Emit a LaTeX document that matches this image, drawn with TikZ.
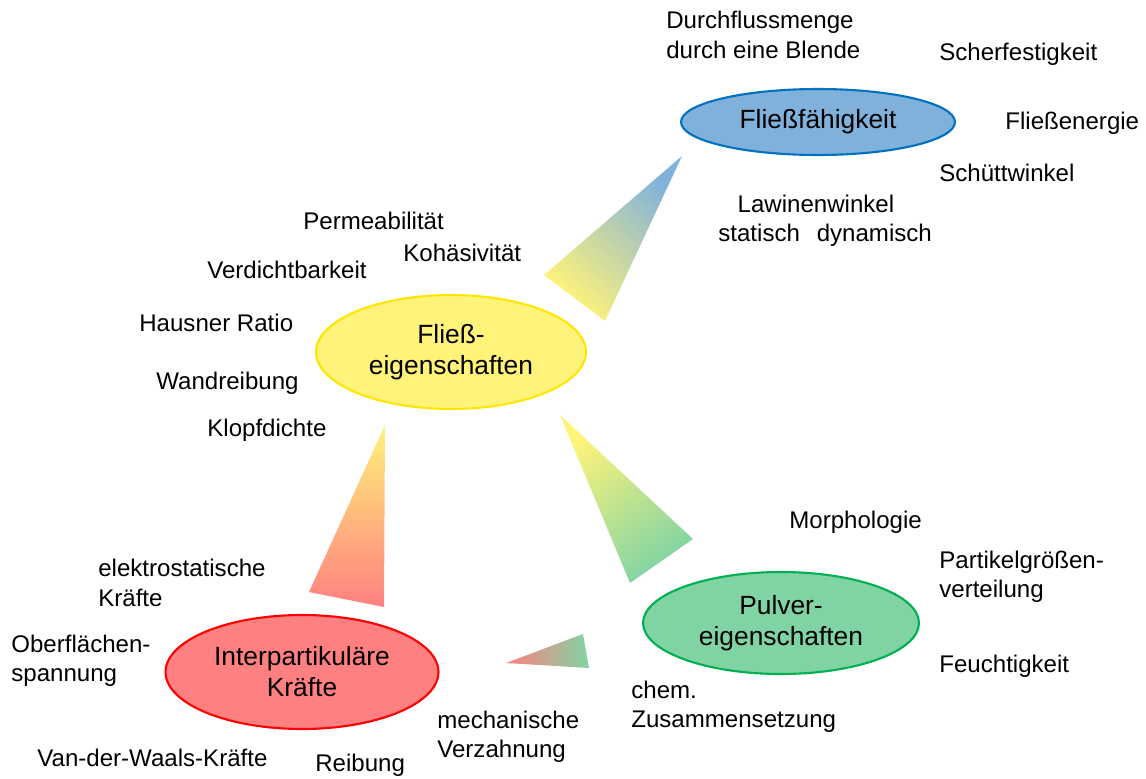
\documentclass[tikz,border=0pt]{standalone}
\usepackage{fontspec}
\setmainfont{Liberation Sans}
\usetikzlibrary{shapes.geometric}

\definecolor{blaufill}{RGB}{127,177,219}
\definecolor{blaurand}{RGB}{0,112,192}
\definecolor{gelbfill}{RGB}{255,243,122}
\definecolor{gelbrand}{RGB}{255,230,0}
\definecolor{rotfill}{RGB}{255,128,128}
\definecolor{rotrand}{RGB}{255,0,0}
\definecolor{gruenfill}{RGB}{128,212,164}
\definecolor{gruenrand}{RGB}{0,176,80}

\begin{document}
\begin{tikzpicture}[x=0.02cm,y=-0.02cm]
		\tikzset{
			haupt/.style={ellipse,draw,line width=1.2pt,inner sep=0pt,align=center,font=\fontsize{15}{17.6}\selectfont},
			merkmal/.style={anchor=west,inner sep=0pt,align=left,font=\fontsize{13.7}{16.8}\selectfont}
		}
		\useasboundingbox (0,0) rectangle (1146,778);
		% Verbindungen
		\shade[top color=blaufill,bottom color=gelbfill,shading angle=-44] (544,275) -- (605,321) -- (682,156) -- cycle;
		\shade[top color=gelbfill,bottom color=rotfill] (385,425) -- (309,592) -- (384,607) -- cycle;
		\shade[top color=gelbfill,bottom color=gruenfill,shading angle=35] (560,415) -- (693,539) -- (630,583) -- cycle;
		\shade[left color=rotfill,right color=gruenfill] (506,663) -- (583,634) -- (589,668) -- cycle;
		% Hauptknoten
		\node[haupt,fill=blaufill,draw=blaurand,minimum width=5.48cm,minimum height=1.32cm] (fliessf) at (818,122) {Fließfähigkeit};
		\node[haupt,fill=gelbfill,draw=gelbrand,minimum width=5.4cm,minimum height=2.28cm] (fliesse) at (451,352) {Fließ-\\eigenschaften};
		\node[haupt,fill=rotfill,draw=rotrand,minimum width=5.46cm,minimum height=2.28cm] (inter) at (302,672) {Interpartikuläre\\Kräfte};
		\node[haupt,fill=gruenfill,draw=gruenrand,minimum width=5.52cm,minimum height=2.04cm] (pulver) at (781,623) {Pulver-\\eigenschaften};
		% Fließfähigkeit
		\node[merkmal] (durchfluss) at (666,35) {Durchflussmenge\\durch eine Blende};
		\node[merkmal] (scher) at (939,54) {Scherfestigkeit};
		\node[merkmal] (energie) at (1005,123) {Fließenergie};
		\node[merkmal] (schuett) at (939,173) {Schüttwinkel};
		\node[merkmal] (lawine) at (718,221) {\hspace*{11pt}Lawinenwinkel\\statisch\hspace{0.7em}dynamisch};
		% Fließeigenschaften
		\node[merkmal] (perm) at (303,221) {Permeabilität};
		\node[merkmal] (kohaes) at (403,253) {Kohäsivität};
		\node[merkmal] (verdicht) at (207,270) {Verdichtbarkeit};
		\node[merkmal] (hausner) at (139,323) {Hausner Ratio};
		\node[merkmal] (wand) at (156,383) {Wandreibung};
		\node[merkmal] (klopf) at (207,430) {Klopfdichte};
		% Interpartikuläre Kräfte
		\node[merkmal] (elektro) at (98,583) {elektrostatische\\Kräfte};
		\node[merkmal] (oberfl) at (11,661) {Oberflächen-\\spannung};
		\node[merkmal] (waals) at (37,758) {Van-der-Waals-Kräfte};
		\node[merkmal] (reibung) at (315,765) {Reibung};
		\node[merkmal] (mechan) at (437,737) {mechanische\\Verzahnung};
		% Pulvereigenschaften
		\node[merkmal] (chem) at (631,707) {chem.\\Zusammensetzung};
		\node[merkmal] (morph) at (789,522) {Morphologie};
		\node[merkmal] (partikel) at (939,577) {Partikelgrößen-\\verteilung};
		\node[merkmal] (feucht) at (939,666) {Feuchtigkeit};
	\end{tikzpicture}
\end{document}
